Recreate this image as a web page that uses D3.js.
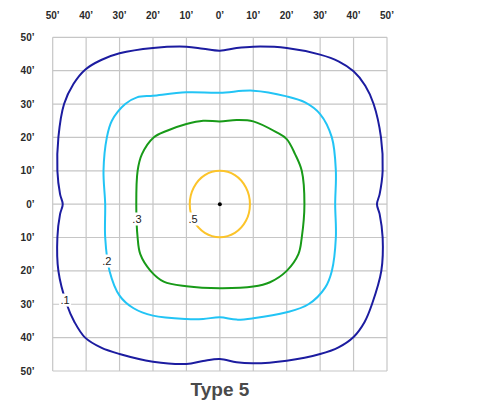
<!DOCTYPE html>
<html>
<head>
<meta charset="utf-8">
<script src="https://cdn.jsdelivr.net/npm/d3@7"></script>
<style>
  body { margin: 0; background: #fff; }
  svg { font-family: "Liberation Sans", Arial, sans-serif; }
</style>
</head>
<body>
<svg id="grafico" width="492" height="405"></svg>
<script>
// tick labels (feet)
let ticksX = [-50, -40, -30, -20, -10, 0, 10, 20, 30, 40, 50];
let ticksY = [50, 40, 30, 20, 10, 0, -10, -20, -30, -40, -50];

// isofootcandle contours, points in feet (x, y), clockwise from top
let c1x = [0, 5, 10, 20, 30, 35.5, 40, 43.5, 46, 48.2, 48.7, 47.8, 47, 47.8, 48.7, 48.3, 45.5, 43.3, 40, 35.5, 30, 20, 10, 5, 0, -5, -10, -20, -30, -35.5, -40.3, -43.5, -45.8, -48.3, -48.6, -47.8, -47, -47.8, -48.6, -48.3, -46.6, -43.8, -40.3, -35.5, -30, -20, -10, -5];
let c1y = [46, 46.8, 47.2, 46.8, 44.8, 42.8, 39.8, 35.5, 30, 20, 10, 3, 0, -3, -10, -20, -30, -35.3, -39.8, -42.9, -44.9, -46.9, -47.7, -47.4, -46.4, -47, -47.9, -47.2, -44.9, -43, -40, -35.3, -30, -20, -10, -3, 0, 3, 10, 20, 30, 36, 40.3, 43.2, 45.2, 46.8, 47.2, 46.6];

let c2x = [0, 10, 20, 25.5, 30, 33.5, 34.7, 34.5, 34.7, 33.5, 31.5, 26.5, 20, 10, 5, 0, -5, -10, -20, -25.8, -30, -33, -34.3, -34.3, -34.8, -33.8, -32.3, -28.3, -24.8, -20, -10];
let c2y = [33.4, 34, 32.3, 30.5, 27, 20, 10, 0, -10, -20, -25, -30, -32.4, -34.2, -34.6, -33.9, -34.4, -34.4, -33.4, -31.2, -27.4, -20, -10, 0, 10, 20, 25, 30, 32, 32.5, 33.5];

let c3x = [0, 5, 10, 17, 20, 22.5, 24.5, 25.3, 24.5, 23.5, 20, 15, 10, 0, -10, -16.8, -20.8, -23.8, -24.6, -25, -24.6, -23.3, -19.8, -15.8, -10, -5];
let c3y = [24.8, 25.2, 24.8, 21.5, 19.5, 15, 10, 0, -10, -15, -20, -23.4, -24.7, -25.2, -24.6, -23.2, -19.9, -15, -10, 0, 10, 15, 20, 22, 24, 25];

let c5x = [0, 4.5, 7.8, 9, 7.8, 4.5, 0, -4.5, -7.8, -9, -7.8, -4.5];
let c5y = [10, 8.7, 5, 0, -5, -8.6, -9.9, -8.6, -5, 0, 5, 8.7];

let rotulos = ['.1', '.2', '.3', '.5'];
let rotuloX = [-46.3, -33.8, -24.8, -8];
let rotuloY = [-28.9, -17.2, -4.6, -4.6];

let contornos = [
  { xs: c1x, ys: c1y, cor: '#1c1ca0' },
  { xs: c2x, ys: c2y, cor: '#22c4f5' },
  { xs: c3x, ys: c3y, cor: '#189a18' },
  { xs: c5x, ys: c5y, cor: '#fcc42a' }
];

let svg = d3.select('#grafico');

let fnx = d3.scaleLinear().domain([-50, 50]).range([52.7, 387]);
let fny = d3.scaleLinear().domain([-50, 50]).range([371, 37.3]);

// grid
let grade = svg.append('g');
grade.selectAll('.gx')
  .data(ticksX)
  .join('line')
  .attr('x1', d => fnx(d)).attr('x2', d => fnx(d))
  .attr('y1', fny(50)).attr('y2', fny(-50))
  .attr('stroke', '#c6c6c6').attr('stroke-width', 1.2);
grade.selectAll('.gy')
  .data(ticksY)
  .join('line')
  .attr('y1', d => fny(d)).attr('y2', d => fny(d))
  .attr('x1', fnx(-50)).attr('x2', fnx(50))
  .attr('stroke', '#c6c6c6').attr('stroke-width', 1.2);

// tick labels
svg.selectAll('.tx')
  .data(ticksX)
  .join('text')
  .attr('x', d => fnx(d))
  .attr('y', 15.5)
  .attr('dy', '0.35em')
  .attr('text-anchor', 'middle')
  .attr('font-size', 10)
  .attr('font-weight', 'bold')
  .attr('fill', '#2a2a2a')
  .text(d => Math.abs(d) + '\u2019');
svg.selectAll('.ty')
  .data(ticksY)
  .join('text')
  .attr('x', 34.5)
  .attr('y', d => fny(d))
  .attr('dy', '0.35em')
  .attr('text-anchor', 'end')
  .attr('font-size', 10)
  .attr('font-weight', 'bold')
  .attr('fill', '#2a2a2a')
  .text(d => Math.abs(d) + '\u2019');

// contours
let linha = d3.line()
  .x(d => fnx(d[0]))
  .y(d => fny(d[1]))
  .curve(d3.curveCatmullRomClosed.alpha(0.5));

svg.append('g').selectAll('path')
  .data(contornos)
  .join('path')
  .attr('d', c => linha(c.xs.map((x, i) => [x, c.ys[i]])))
  .attr('fill', 'none')
  .attr('stroke', c => c.cor)
  .attr('stroke-width', 2);

// center dot
svg.append('circle')
  .attr('cx', fnx(0)).attr('cy', fny(0))
  .attr('r', 2).attr('fill', '#000');

// contour labels
let rot = svg.append('g').selectAll('g')
  .data(rotulos)
  .join('g')
  .attr('transform', (d, i) => `translate(${fnx(rotuloX[i])},${fny(rotuloY[i])})`);
rot.append('rect')
  .attr('x', -6).attr('y', -7)
  .attr('width', 12).attr('height', 13)
  .attr('fill', '#fff');
rot.append('text')
  .attr('text-anchor', 'middle')
  .attr('dy', '0.35em')
  .attr('font-size', 11)
  .attr('fill', '#222')
  .text(d => d);

// title
svg.append('text')
  .attr('x', 220)
  .attr('y', 396)
  .attr('text-anchor', 'middle')
  .attr('font-size', 19)
  .attr('font-weight', 'bold')
  .attr('fill', '#4a4a4a')
  .text('Type 5');
</script>
</body>
</html>
